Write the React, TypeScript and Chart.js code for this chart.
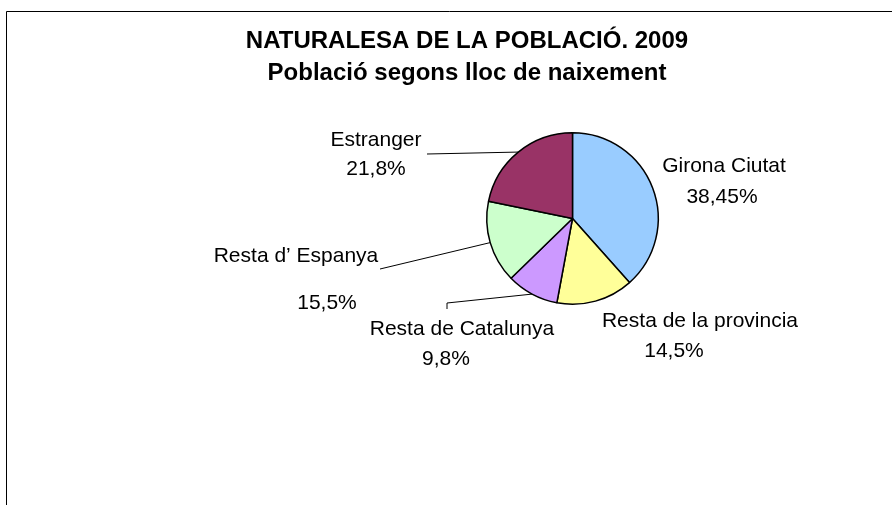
import React, { useEffect, useRef } from "react";
import { Chart, registerables } from "chart.js";

Chart.register(...registerables);

const CATEGORIES = ["Girona Ciutat", "Resta de la provincia", "Resta de Catalunya", "Resta d’ Espanya", "Estranger"];
const VALUES = [38.45, 14.5, 9.8, 15.5, 21.8];
const COLORS = ["#99CCFF", "#FFFF99", "#CC99FF", "#CCFFCC", "#993366"];
const TITLE_LINES = ["NATURALESA DE LA POBLACIÓ. 2009", "Població segons lloc de naixement"];

// label layout relative to pie centre (px): [name pos, value pos, leader anchor points]
const LABEL_LAYOUT = [
  { name: [151.5, -46.5], value: [149.5, -15.5], leader: [] as number[][] },
  { name: [127.5, 108.5], value: [101.5, 138.5], leader: [] as number[][] },
  { name: [-110.5, 116.5], value: [-126.5, 146.5], leader: [[-125.5, 90.5], [-125.5, 84.5]] },
  { name: [-276.5, 43.5], value: [-245.5, 90.5], leader: [[-192.5, 50.5]] },
  { name: [-196.5, -72.5], value: [-196.5, -43.5], leader: [[-145.5, -64.5]] },
];

const FONT = '"Liberation Sans", Arial, sans-serif';

const fmt = (v: number) => String(v).replace(".", ",") + "%";

const decorPlugin = {
  id: "decor",
  beforeDraw(chart: any) {
    const ctx = chart.ctx;
    ctx.save();
    ctx.fillStyle = "#ffffff";
    ctx.fillRect(0, 0, chart.width, chart.height);
    ctx.strokeStyle = "#000000";
    ctx.lineWidth = 1;
    ctx.beginPath();
    ctx.moveTo(6.5, chart.height);
    ctx.lineTo(6.5, 11.5);
    ctx.lineTo(chart.width, 11.5);
    ctx.stroke();
    ctx.restore();
  },
  afterDraw(chart: any) {
    const ctx = chart.ctx;
    const meta = chart.getDatasetMeta(0);
    const first = meta.data[0];
    const cx = first.x;
    const cy = first.y;
    ctx.save();
    // title
    ctx.fillStyle = "#000000";
    ctx.textAlign = "center";
    ctx.textBaseline = "alphabetic";
    ctx.font = `bold 24px ${FONT}`;
    ctx.fillText(TITLE_LINES[0], 467, 48);
    ctx.fillText(TITLE_LINES[1], 467, 80);
    // labels and leaders
    ctx.font = `21px ${FONT}`;
    meta.data.forEach((arc: any, i: number) => {
      const lay = LABEL_LAYOUT[i];
      ctx.fillText(CATEGORIES[i], cx + lay.name[0], cy + lay.name[1]);
      ctx.fillText(fmt(VALUES[i]), cx + lay.value[0], cy + lay.value[1]);
      if (lay.leader.length) {
        const mid = (arc.startAngle + arc.endAngle) / 2;
        const r = arc.outerRadius;
        ctx.strokeStyle = "#000000";
        ctx.lineWidth = 1;
        ctx.beginPath();
        lay.leader.forEach((p, k) => {
          if (k === 0) ctx.moveTo(cx + p[0], cy + p[1]);
          else ctx.lineTo(cx + p[0], cy + p[1]);
        });
        ctx.lineTo(cx + r * Math.cos(mid), cy + r * Math.sin(mid));
        ctx.stroke();
      }
    });
    ctx.restore();
  },
};

export default function App() {
  const ref = useRef<HTMLCanvasElement | null>(null);
  useEffect(() => {
    if (!ref.current) return;
    const chart = new Chart(ref.current, {
      type: "pie",
      data: {
        labels: CATEGORIES,
        datasets: [
          {
            data: VALUES,
            backgroundColor: COLORS,
            borderColor: "#000000",
            borderWidth: 1.5,
          },
        ],
      },
      options: {
        responsive: false,
        animation: false,
        events: [],
        layout: { padding: { left: 486, right: 233, top: 132, bottom: 200 } },
        plugins: {
          legend: { display: false },
          title: { display: false },
          tooltip: { enabled: false },
        },
      },
      plugins: [decorPlugin],
    });
    return () => chart.destroy();
  }, []);
  return (
    <div style={{ position: "absolute", left: 0, top: 0, width: 892, height: 505 }}>
      <canvas ref={ref} width={892} height={505} style={{ display: "block" }} />
    </div>
  );
}
